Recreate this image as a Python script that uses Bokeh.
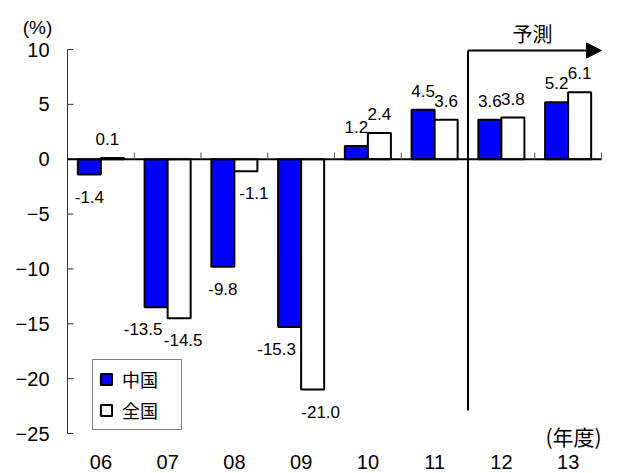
from bokeh.plotting import figure
from bokeh.models import (Range1d, Legend, LegendItem,
                          Label, Arrow, NormalHead, ColumnDataSource)
from bokeh.embed import file_html
from bokeh.resources import INLINE
from bokeh.core.properties import value
from bokeh.transform import dodge

# ---- data ----
years = ["06", "07", "08", "09", "10", "11", "12", "13"]
china = [-1.4, -13.5, -9.8, -15.3, 1.2, 4.5, 3.6, 5.2]
nation = [0.1, -14.5, -1.1, -21.0, 2.4, 3.6, 3.8, 6.1]
y_ticks = [10, 5, 0, -5, -10, -15, -20, -25]
y_tick_labels = ["10", "5", "0", "−5", "−10", "−15", "−20", "−25"]
unit_label = "(%)"
x_title = "(年度)"
forecast_label = "予測"
forecast_start = "12"
series_names = ["中国", "全国"]

# ---- style ----
NUM_FONT = "'Liberation Sans', Arial, sans-serif"
JP_FONT = "'Noto Sans CJK JP', sans-serif"
# small horizontal label nudges (px), as in the original layout
china_dx = {"07": -13, "09": -13}
nation_dx = {"06": -5, "07": 4, "08": 8, "09": 8}

n = len(years)
PX_CAT = 66.75                    # px per category
PX_UNIT = 384.0 / 35.0            # px per y unit
W, H = 617, 473
AX_X, Y10 = 67, 49                # where the value axis and the 10% line sit

def sx(px):   # screen x -> data x
    return (px - AX_X) / PX_CAT

def sy(py):   # screen y -> data y
    return 10 + (Y10 - py) / PX_UNIT

p = figure(width=W, height=H, output_backend="svg", toolbar_location=None,
           x_range=Range1d(sx(0), sx(W)), y_range=Range1d(sy(H), sy(0)),
           frame_width=W, frame_height=H,
           x_axis_location=None, y_axis_location=None,
           min_border=0)
p.outline_line_color = None
p.xgrid.visible = False
p.ygrid.visible = False
p.background_fill_color = "white"
p.border_fill_color = "white"

# value axis: line, inner ticks, labels
p.segment(x0=[0], y0=[y_ticks[-1]], x1=[0], y1=[y_ticks[0]], line_color="#333333", line_width=1)
p.segment(x0=[0] * len(y_ticks), y0=y_ticks, x1=[6 / PX_CAT] * len(y_ticks), y1=y_ticks,
          line_color="#333333", line_width=1)
tsrc = ColumnDataSource(dict(y=y_ticks, t=y_tick_labels))
p.text(x=sx(49), y="y", text="t", source=tsrc, text_align="right", text_baseline="middle",
       text_font=value(NUM_FONT), text_font_size="20px", text_color="black")
p.add_layout(Label(x=sx(37), y=sy(27), text=unit_label, text_align="center",
                   text_baseline="middle", text_font=NUM_FONT, text_font_size="19px",
                   text_color="black"))

xc = [i + 0.5 for i in range(n)]
src = ColumnDataSource(dict(xc=xc, china=china, nation=nation))

BW = 0.345
r_china = p.vbar(x=dodge("xc", -BW / 2), top="china", bottom=0, width=BW,
                 source=src, fill_color="#0000FF", line_color="black", line_width=2)
r_nation = p.vbar(x=dodge("xc", BW / 2), top="nation", bottom=0, width=BW,
                  source=src, fill_color="white", line_color="black", line_width=2)

# zero line with category-boundary ticks
p.segment(x0=[0], y0=[0], x1=[n], y1=[0], line_color="black", line_width=2)
p.segment(x0=list(range(1, n + 1)), y0=[0] * n, x1=list(range(1, n + 1)), y1=[0.6] * n,
          line_color="#555555", line_width=1)

# data labels
def add_labels(vals, off, dx):
    for positive, yo in ((True, -19), (False, 22)):
        idx = [i for i, v in enumerate(vals) if (v >= 0) == positive]
        s = ColumnDataSource(dict(x=[xc[i] for i in idx], y=[vals[i] for i in idx],
                                  t=[f"{vals[i]:.1f}" for i in idx],
                                  dx=[dx.get(years[i], 0) for i in idx]))
        p.text(x=dodge("x", off), y="y", text="t", source=s, x_offset="dx",
               text_align="center", text_baseline="alphabetic", y_offset=yo,
               text_font=value(NUM_FONT), text_font_size="17px", text_color="black")

add_labels(china, -BW / 2, china_dx)
add_labels(nation, BW / 2, nation_dx)

# category labels along the bottom
ysrc = ColumnDataSource(dict(x=xc, t=years))
p.text(x="x", y=sy(461), text="t", source=ysrc,
       text_align="center", text_baseline="middle",
       text_font=value(NUM_FONT), text_font_size="20px", text_color="black")

# forecast marker
fx = years.index(forecast_start)
p.segment(x0=[fx], y0=[sy(50)], x1=[fx], y1=[sy(410)], line_color="black", line_width=2)
p.add_layout(Arrow(end=NormalHead(size=15, fill_color="black", line_color="black"),
                   x_start=fx, y_start=sy(50), x_end=n, y_end=sy(50),
                   line_color="black", line_width=2))
p.add_layout(Label(x=sx(532), y=sy(33), text=forecast_label,
                   text_align="center", text_baseline="middle", text_font=JP_FONT,
                   text_font_size="20px", text_color="black"))
p.add_layout(Label(x=sx(573), y=sy(435), text=x_title,
                   text_align="center", text_baseline="middle", text_font=JP_FONT,
                   text_font_size="21px", text_color="black"))

legend = Legend(items=[LegendItem(label=series_names[0], renderers=[r_china]),
                       LegendItem(label=series_names[1], renderers=[r_nation])],
                location=(92, H - 430), orientation="vertical",
                label_text_font=JP_FONT, label_text_font_size="18px",
                label_text_color="black", label_text_baseline="middle",
                glyph_width=14, glyph_height=14, label_standoff=9,
                label_height=22, label_width=53, spacing=5, padding=6,
                border_line_color="black", border_line_width=1,
                background_fill_alpha=1, margin=0)
p.add_layout(legend)

open("out.html", "w").write(file_html(p, INLINE))
